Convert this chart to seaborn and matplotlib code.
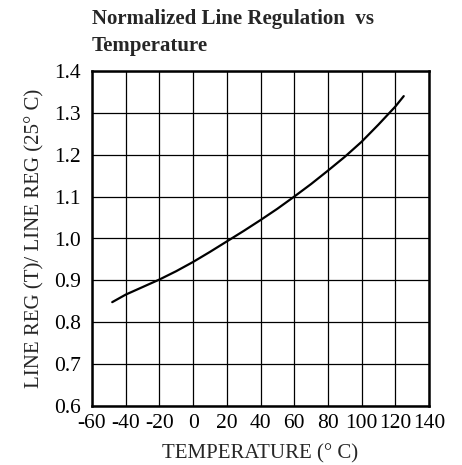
import matplotlib
matplotlib.use("Agg")
import matplotlib.pyplot as plt
import seaborn as sns
import pandas as pd

temperature = [-48, -40, -30, -20, -10, 0, 10, 20, 30, 40, 50, 60, 70, 80, 90, 100, 110, 120, 125]
line_reg = [0.848, 0.866, 0.884, 0.902, 0.922, 0.944, 0.968, 0.993, 1.018, 1.044, 1.071, 1.100, 1.130, 1.162, 1.195, 1.231, 1.272, 1.315, 1.340]
x_ticks = [-60, -40, -20, 0, 20, 40, 60, 80, 100, 120, 140]
y_ticks = [0.6, 0.7, 0.8, 0.9, 1.0, 1.1, 1.2, 1.3, 1.4]

sns.set_style("white")
plt.rcParams['font.family'] = ['Liberation Serif', 'DejaVu Serif']

fig = plt.figure(figsize=(4.62, 4.65), dpi=100)
ax = fig.add_axes([92/462, 1 - 406/465, (429-92)/462, (406-71)/465])

df = pd.DataFrame({"T": temperature, "R": line_reg})
sns.lineplot(data=df, x="T", y="R", ax=ax, color="black", linewidth=1.6)

ax.set_xlim(-60, 140)
ax.set_ylim(0.6, 1.4)
ax.set_xticks(x_ticks)
ax.set_yticks(y_ticks)
ax.set_xticklabels([str(v) for v in x_ticks])
ax.set_yticklabels([f"{v:.1f}" for v in y_ticks])
ax.tick_params(axis='both', length=0, labelsize=15.5, colors='black')
ax.tick_params(axis='x', pad=6)
ax.tick_params(axis='y', pad=8)
ax.grid(True, color='black', linewidth=0.9)
for s in ax.spines.values():
    s.set_color('black')
    s.set_linewidth(1.8)
ax.set_xlabel("TEMPERATURE (° C)", fontsize=15, labelpad=8)
ax.set_ylabel("LINE REG (T)/ LINE REG (25° C)", fontsize=15, labelpad=7)

fig.text(92/462, 1 - 9/465, "Normalized Line Regulation  vs\nTemperature",
         fontsize=15, fontweight='bold', ha='left', va='top', linespacing=1.45)

fig.savefig("out.png", dpi=100)
